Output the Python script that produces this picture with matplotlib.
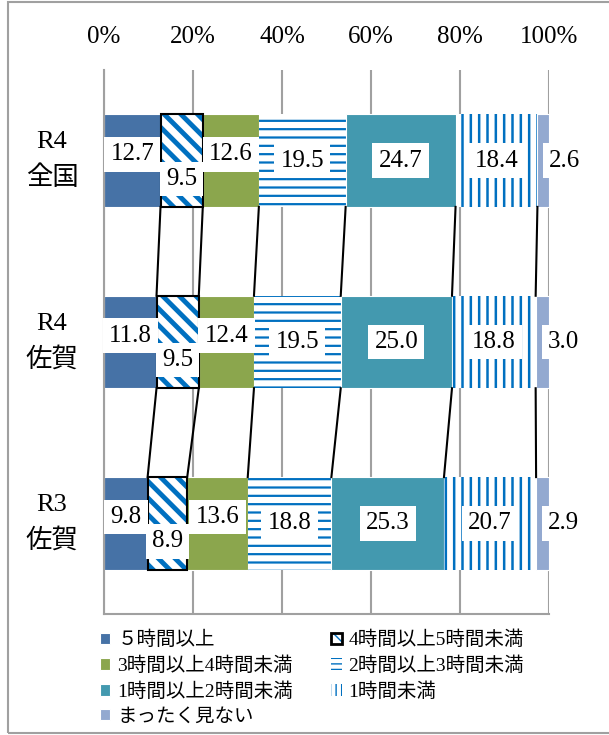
import numpy as np
import matplotlib
matplotlib.use("Agg")
import matplotlib.pyplot as plt
from matplotlib.patches import Rectangle
from matplotlib.transforms import blended_transform_factory

plt.rcParams['font.family'] = ['Liberation Serif', 'Noto Sans CJK JP']

groups = ['R4\n全国', 'R4\n佐賀', 'R3\n佐賀']
series = ['５時間以上', '4時間以上5時間未満', '3時間以上4時間未満',
          '2時間以上3時間未満', '1時間以上2時間未満', '1時間未満', 'まったく見ない']
v_5h = [12.7, 11.8, 9.8]
v_4_5h = [9.5, 9.5, 8.9]
v_3_4h = [12.6, 12.4, 13.6]
v_2_3h = [19.5, 19.5, 18.8]
v_1_2h = [24.7, 25.0, 25.3]
v_lt1h = [18.4, 18.8, 20.7]
v_none = [2.6, 3.0, 2.9]
values = [v_5h, v_4_5h, v_3_4h, v_2_3h, v_1_2h, v_lt1h, v_none]

ticks = [0, 20, 40, 60, 80, 100]

blue = '#0070C0'
styles = [
    dict(color='#4672A6'),
    dict(color='white', edgecolor=blue, hatch='\\\\', hlw=3.5, leg='\\\\'),
    dict(color='#8BA64D'),
    dict(color='white', edgecolor=blue, hatch='--', hlw=1.6, leg='---'),
    dict(color='#4399AF'),
    dict(color='white', edgecolor=blue, hatch='||', hlw=1.8, leg='|||'),
    dict(color='#93A9D0'),
]
# label offsets per series (data units)
yoffs = [-0.035, 0.10, -0.035, 0.0, 0.0, 0.0, 0.0]
xoffs = [0, 0, 0, 0, 0, 0, 4.8]

fig = plt.figure(figsize=(6.09, 7.35), dpi=100)
ax = fig.add_axes([104/609, 1-614/735, 445/609, 544/735])

y = np.arange(len(groups))
h = 0.51
left = np.zeros(len(groups))
handles = []
for i, (name, vals) in enumerate(zip(series, values)):
    st = styles[i]
    if 'hatch' in st:
        bars = ax.barh(y, vals, h, left=left, facecolor='white', edgecolor=st['edgecolor'],
                       hatch=st['hatch'], linewidth=0, label=name, zorder=2)
        for b in bars:
            if hasattr(b, 'set_hatch_linewidth'):
                b.set_hatch_linewidth(st['hlw'])
        p1 = Rectangle((0, 0), 1, 1, facecolor='white', edgecolor=blue, hatch=st['leg'], lw=0)
        if hasattr(p1, 'set_hatch_linewidth'):
            p1.set_hatch_linewidth(2.5 if i == 1 else 1.6)
        hnd = p1
        if i == 1:
            ax.barh(y, vals, h, left=left, fill=False, edgecolor='black', linewidth=1.5, zorder=3)
            p2 = Rectangle((0, 0), 1, 1, fill=False, edgecolor='black', lw=2)
            hnd = (p1, p2)
    else:
        bars = ax.barh(y, vals, h, left=left, color=st['color'], linewidth=0.8,
                       edgecolor='white', label=name, zorder=2)
        hnd = bars
    handles.append(hnd)
    for j, v in enumerate(vals):
        ax.text(left[j] + v / 2 + xoffs[i], y[j] + yoffs[i], f'{v:.1f}', ha='center',
                va='center', fontsize=18, zorder=5,
                bbox=dict(boxstyle='square,pad=0.25', facecolor='white', edgecolor='none'))
    left = left + np.array(vals)

# series lines between bars
cum = np.cumsum(np.array(values), axis=0)
for k in range(len(series) - 1):
    for j in range(len(groups) - 1):
        ax.plot([cum[k][j], cum[k][j + 1]], [y[j] + h / 2, y[j + 1] - h / 2],
                color='black', lw=1.5, zorder=4)

ax.set_xlim(0, 100)
ax.set_ylim(2.5, -0.5)
ax.set_xticks(ticks)
ax.set_xticklabels([f'{t}%' for t in ticks], fontsize=18)
ax.xaxis.tick_top()
ax.tick_params(axis='x', length=0, pad=16)
ax.set_yticks([])
tr = blended_transform_factory(fig.transFigure, ax.transData)
for j, g in enumerate(groups):
    fig.text(52/609, y[j], g, transform=tr, ha='center', va='center',
             fontsize=19, linespacing=1.6)
ax.grid(axis='x', color='#A0A0A0', lw=1.5, zorder=0)
ax.set_axisbelow(True)
ax.spines['top'].set_visible(False)
ax.spines['right'].set_visible(False)
for s in ['left', 'bottom']:
    ax.spines[s].set_color('#A0A0A0')
    ax.spines[s].set_linewidth(1.5)

order = [0, 2, 4, 6, 1, 3, 5]
leg = fig.legend([handles[i] for i in order], [series[i] for i in order], ncol=2,
                 loc='upper left', bbox_to_anchor=(90/609, 1-621/735), frameon=False,
                 fontsize=14, handlelength=0.55, handleheight=0.55, handletextpad=0.35,
                 labelspacing=0.38, columnspacing=1.95, borderpad=0)

fig.patches.append(Rectangle((8/609, 2/735), 1.2, 731/735, transform=fig.transFigure,
                             fill=False, edgecolor='#A0A0A0', lw=1.5))

fig.savefig('out.png', dpi=100)
